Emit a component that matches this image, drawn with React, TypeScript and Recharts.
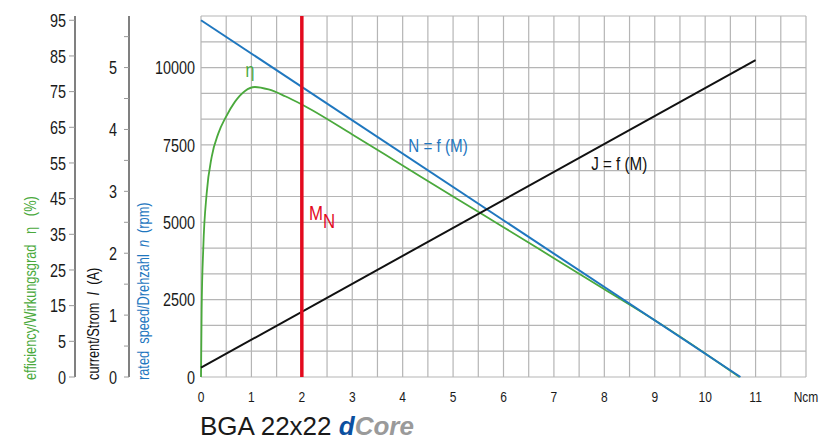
import React from "react";
import {
  ComposedChart,
  Line,
  XAxis,
  YAxis,
  ReferenceLine,
  ReferenceDot,
} from "recharts";

const SANS = "'Liberation Sans', Arial, sans-serif";

const GREEN = "#4aa93c";
const BLUE = "#1f77bf";
const RED = "#e30a1e";
const BLACK = "#111111";
const GRID = "#b5b5b5";

// left axes are stacked by id: "a" sits next to the plot, "c" outermost
const SPEED = "a_speed";
const CURRENT = "b_current";
const EFF = "c_eff";

// torque axis (printed unit "Ncm")
const torqueTicks = [0, 1, 2, 3, 4, 5, 6, 7, 8, 9, 10, 11, 12];
const torqueUnit = "Ncm";
const torqueGrid = [
  0, 0.5, 1, 1.5, 2, 2.5, 3, 3.5, 4, 4.5, 5, 5.5, 6, 6.5, 7, 7.5, 8, 8.5, 9,
  9.5, 10, 10.5, 11, 11.5, 12,
];
const rowGrid = [0, 1, 2, 3, 4, 5, 6, 7, 8, 9, 10, 11, 12, 13, 14];
const speedPerRow = 2500 / 3;

const speedTicks = [0, 2500, 5000, 7500, 10000];
const currentTicks = [0, 0.5, 1, 1.5, 2, 2.5, 3, 3.5, 4, 4.5, 5, 5.5];
const effTicks = [0, 10, 20, 30, 40, 50, 60, 70, 80, 90, 100];
const effTickLabels = ["0", "5", "15", "25", "35", "45", "55", "65", "75", "85", "95"];

const ratedTorque = 2;

// speed n (rpm) vs torque
const speedCurve = [
  { m: 0, n: 11530 },
  { m: 10.7, n: 0 },
];

// current I (A) vs torque
const currentCurve = [
  { m: 0, i: 0.15 },
  { m: 11, i: 5.12 },
];

// efficiency vs torque
const efficiencyCurve = [
  { m: 0, eta: 0 },
  { m: 0.013, eta: 19 },
  { m: 0.046, eta: 36.4 },
  { m: 0.112, eta: 51.4 },
  { m: 0.212, eta: 61.7 },
  { m: 0.344, eta: 68.3 },
  { m: 0.49, eta: 72.8 },
  { m: 0.675, eta: 77.2 },
  { m: 0.873, eta: 80.2 },
  { m: 1.07, eta: 81.3 },
  { m: 1.34, eta: 80.6 },
  { m: 1.67, eta: 78.7 },
  { m: 2, eta: 76.4 },
  { m: 3, eta: 68.0 },
  { m: 4, eta: 59.3 },
  { m: 5, eta: 50.6 },
  { m: 6, eta: 42.0 },
  { m: 7, eta: 33.3 },
  { m: 8, eta: 24.6 },
  { m: 9, eta: 15.9 },
  { m: 10, eta: 6.6 },
  { m: 10.68, eta: 0 },
];

// condensed look: Arial-metric font squeezed horizontally
const Narrow = (p: any) => (
  <text
    transform={`translate(${p.x} ${p.y})${p.rotate ? " rotate(-90)" : ""} scale(0.8 1)`}
    x={0}
    y={0}
    dy={p.dy}
    textAnchor={p.anchor || "start"}
    dominantBaseline={p.baseline || "central"}
    fontFamily={SANS}
    fontSize={p.size || 18}
    fill={p.fill || "#1a1a1a"}
    style={{ whiteSpace: "pre" }}
  >
    {p.children}
  </text>
);

const yTick = (format?: (v: number) => string) => (p: any) => (
  <Narrow x={p.x} y={p.y} anchor="end">
    {format ? format(p.payload.value) : p.payload.value}
  </Narrow>
);

const xTick = (p: any) => (
  <Narrow x={p.x} y={p.y} anchor="middle" baseline="auto" dy="0.71em" size={15}>
    {p.payload.value === 12 ? torqueUnit : p.payload.value}
  </Narrow>
);

const axisTitle = (dx: number, color: string, content: React.ReactNode) => (p: any) => {
  const vb = p.viewBox || p;
  return (
    <Narrow x={vb.x + dx} y={vb.y + vb.height + 3} rotate size={16} fill={color}>
      {content}
    </Narrow>
  );
};

const note = (color: string, content: React.ReactNode, size = 19, anchor = "start") => (p: any) => {
  const vb = p.viewBox || p;
  return (
    <Narrow x={vb.x} y={vb.y} anchor={anchor} size={size} fill={color}>
      {content}
    </Narrow>
  );
};

export default function App() {
  return (
    <div
      style={{
        position: "absolute",
        left: 0,
        top: 0,
        width: 820,
        height: 443,
        background: "#fff",
      }}
    >
      <ComposedChart
        width={820}
        height={443}
        margin={{ top: 16, right: 14, bottom: 36, left: 0 }}
      >
        <XAxis
          xAxisId="torque"
          dataKey="m"
          type="number"
          domain={[0, 12]}
          ticks={torqueTicks}
          axisLine={false}
          tickLine={false}
          tickSize={0}
          tickMargin={14}
          height={30}
          interval={0}
          tick={xTick}
        />

        <YAxis
          yAxisId={SPEED}
          type="number"
          domain={[0, 14 * speedPerRow]}
          ticks={speedTicks}
          width={72}
          axisLine={false}
          tickLine={false}
          tickSize={0}
          tickMargin={6}
          interval={0}
          tick={yTick()}
          label={axisTitle(
            14,
            BLUE,
            <>
              {"rated  speed/Drehzahl  "}
              <tspan fontStyle="italic">n</tspan>
              {"  (rpm)"}
            </>
          )}
        />
        <YAxis
          yAxisId={CURRENT}
          type="number"
          domain={[0, 35 / 6]}
          ticks={currentTicks}
          width={54}
          axisLine={{ stroke: "#808080", strokeWidth: 2 }}
          tickLine={{ stroke: "#999" }}
          tickSize={5}
          tickMargin={7}
          interval={0}
          tick={yTick((v) => (Number.isInteger(v) ? String(v) : ""))}
          label={axisTitle(
            18,
            BLACK,
            <>
              {"current/Strom  "}
              <tspan fontStyle="italic">I</tspan>
              {"  (A)"}
            </>
          )}
        />
        <YAxis
          yAxisId={EFF}
          type="number"
          domain={[0, 101.2]}
          ticks={effTicks}
          width={75}
          axisLine={{ stroke: "#808080", strokeWidth: 2 }}
          tickLine={{ stroke: "#999" }}
          tickSize={6}
          tickMargin={3}
          interval={0}
          tick={yTick((v) => effTickLabels[effTicks.indexOf(v)])}
          label={axisTitle(30, GREEN, "efficiency/Wirkungsgrad   η   (%)")}
        />

        {torqueGrid.map((v) => (
          <ReferenceLine
            key={`gx-${v}`}
            xAxisId="torque"
            yAxisId={SPEED}
            x={v}
            stroke={GRID}
            strokeWidth={1.2}
            ifOverflow="visible"
          />
        ))}
        {rowGrid.map((r) => (
          <ReferenceLine
            key={`gy-${r}`}
            xAxisId="torque"
            yAxisId={SPEED}
            y={r * speedPerRow}
            stroke={GRID}
            strokeWidth={1.2}
            ifOverflow="visible"
          />
        ))}

        <Line
          xAxisId="torque"
          yAxisId={EFF}
          data={efficiencyCurve}
          dataKey="eta"
          type="monotone"
          stroke={GREEN}
          strokeWidth={1.8}
          dot={false}
          isAnimationActive={false}
        />
        <Line
          xAxisId="torque"
          yAxisId={SPEED}
          data={speedCurve}
          dataKey="n"
          type="linear"
          stroke={BLUE}
          strokeWidth={2}
          dot={false}
          isAnimationActive={false}
        />
        <Line
          xAxisId="torque"
          yAxisId={CURRENT}
          data={currentCurve}
          dataKey="i"
          type="linear"
          stroke={BLACK}
          strokeWidth={2}
          dot={false}
          isAnimationActive={false}
        />
        <ReferenceLine
          xAxisId="torque"
          yAxisId={SPEED}
          x={ratedTorque}
          stroke={RED}
          strokeWidth={3.5}
        />

        <ReferenceDot
          xAxisId="torque"
          yAxisId={SPEED}
          x={0.97}
          y={9913}
          r={0}
          stroke="none"
          label={note(GREEN, "η", 20, "middle")}
        />
        <ReferenceDot
          xAxisId="torque"
          yAxisId={SPEED}
          x={4.11}
          y={7489}
          r={0}
          stroke="none"
          label={note(BLUE, "N = f (M)")}
        />
        <ReferenceDot
          xAxisId="torque"
          yAxisId={SPEED}
          x={7.74}
          y={6907}
          r={0}
          stroke="none"
          label={note(BLACK, "J = f (M)")}
        />
        <ReferenceDot
          xAxisId="torque"
          yAxisId={SPEED}
          x={2.14}
          y={5290}
          r={0}
          stroke="none"
          label={note(
            RED,
            <>
              M<tspan dy={7}>N</tspan>
            </>,
            21
          )}
        />
      </ComposedChart>
      <div
        style={{
          position: "absolute",
          left: 200,
          top: 413,
          fontFamily: SANS,
          fontSize: 26,
          lineHeight: "26px",
          color: "#1a1a1a",
          whiteSpace: "nowrap",
        }}
      >
        BGA 22x22{" "}
        <span style={{ fontWeight: "bold", fontStyle: "italic", color: "#0b4f9f" }}>d</span>
        <span style={{ fontWeight: "bold", fontStyle: "italic", color: "#9a9a9a" }}>Core</span>
      </div>
    </div>
  );
}
